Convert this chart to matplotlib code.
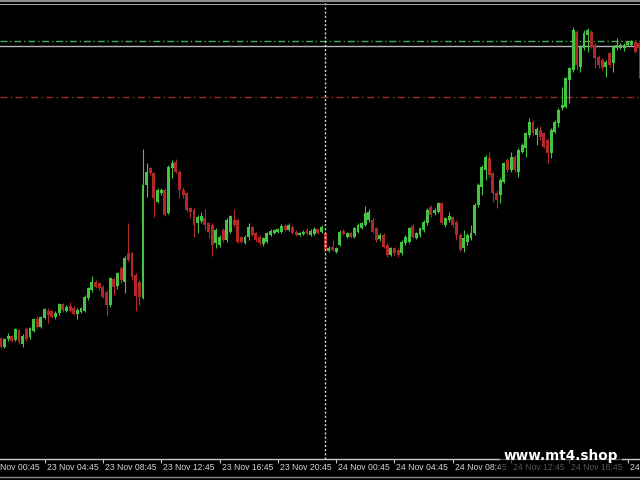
import matplotlib
matplotlib.use('Agg')
import matplotlib.pyplot as plt
from matplotlib.lines import Line2D
from matplotlib.patches import Rectangle
import matplotlib.transforms as mtransforms

# Kerzendaten (M15), Preise in Punkten ------------------------------------------
opens = [142, 133, 141, 144, 140, 150, 136, 151, 143, 149, 161, 153, 162, 169, 169, 163, 167, 176, 169, 174,
         172, 166, 168, 169, 182, 190, 198, 197, 193, 188, 175, 201, 194, 212, 198, 227, 227, 205, 198, 182,
         295, 312, 307, 278, 287, 290, 267, 312, 318, 308, 290, 287, 272, 270, 257, 259, 262, 257, 255, 237,
         235, 250, 240, 248, 260, 260, 243, 237, 243, 253, 247, 243, 236, 238, 245, 247, 248, 248, 254, 250,
         253, 248, 245, 246, 250, 245, 246, 251, 248, 247, 229, 233, 228, 235, 249, 243, 247, 243, 248, 252,
         255, 260, 260, 252, 241, 245, 235, 225, 232, 230, 227, 237, 238, 254, 242, 245, 250, 257, 273, 267,
         268, 277, 255, 260, 263, 258, 245, 232, 238, 242, 247, 275, 293, 310, 322, 307, 287, 285, 298, 320,
         310, 323, 308, 328, 332, 345, 358, 345, 350, 347, 340, 327, 348, 357, 372, 373, 400, 410, 448, 413,
         432, 445, 448, 435, 423, 420, 413, 427, 417, 432, 432, 432, 435, 435, 438, 437]
highs = [143, 142, 147, 145, 152, 151, 146, 153, 153, 162, 164, 164, 172, 172, 170, 169, 177, 177, 175, 178,
         174, 172, 173, 185, 193, 204, 200, 198, 195, 190, 203, 203, 208, 214, 224, 257, 228, 207, 200, 331,
         317, 313, 308, 292, 292, 292, 315, 320, 321, 310, 293, 288, 273, 272, 265, 268, 271, 258, 257, 252,
         245, 252, 262, 265, 271, 262, 244, 245, 257, 254, 248, 245, 243, 248, 251, 251, 252, 256, 256, 257,
         255, 250, 248, 250, 252, 251, 253, 252, 255, 248, 234, 240, 233, 250, 251, 248, 248, 253, 257, 258,
         274, 271, 262, 253, 247, 247, 237, 233, 233, 232, 240, 245, 253, 256, 248, 253, 260, 272, 275, 272,
         278, 278, 263, 268, 264, 260, 247, 250, 247, 255, 277, 297, 315, 325, 328, 308, 290, 302, 318, 322,
         328, 325, 332, 337, 348, 362, 360, 353, 354, 348, 342, 352, 360, 372, 393, 403, 413, 453, 450, 435,
         450, 452, 450, 437, 425, 422, 420, 428, 435, 442, 437, 437, 439, 440, 440, 437]
lows = [132, 132, 139, 138, 139, 136, 133, 139, 141, 148, 152, 152, 161, 157, 162, 161, 165, 168, 168, 168,
        165, 161, 167, 168, 180, 188, 192, 190, 182, 164, 173, 185, 191, 197, 187, 218, 200, 169, 175, 181,
        283, 305, 263, 277, 285, 264, 266, 302, 307, 282, 282, 268, 262, 243, 247, 257, 250, 242, 224, 232,
        233, 238, 238, 247, 253, 237, 237, 236, 240, 244, 238, 235, 234, 237, 244, 246, 247, 247, 249, 249,
        246, 244, 244, 245, 245, 244, 245, 246, 247, 228, 228, 229, 227, 234, 245, 242, 242, 242, 247, 251,
        254, 258, 247, 238, 239, 232, 223, 224, 225, 223, 225, 235, 237, 242, 241, 243, 248, 255, 263, 265,
        267, 256, 253, 258, 253, 240, 229, 228, 235, 240, 245, 273, 285, 300, 303, 278, 272, 277, 297, 308,
        308, 308, 303, 327, 323, 343, 345, 335, 340, 332, 317, 322, 347, 353, 370, 372, 377, 408, 410, 408,
        430, 428, 432, 412, 412, 410, 403, 413, 408, 430, 431, 429, 434, 434, 427, 402]
closes = [133, 141, 144, 139, 151, 138, 144, 141, 152, 161, 153, 163, 171, 165, 163, 167, 176, 170, 173, 169,
          166, 170, 172, 183, 192, 198, 193, 192, 183, 175, 202, 193, 207, 200, 222, 220, 203, 184, 183, 295,
          308, 307, 282, 290, 290, 265, 313, 317, 308, 290, 285, 270, 268, 255, 263, 264, 255, 248, 235, 250,
          243, 240, 260, 264, 255, 238, 238, 243, 253, 245, 240, 237, 242, 247, 249, 250, 251, 254, 250, 255,
          247, 245, 247, 248, 246, 249, 251, 247, 253, 230, 232, 230, 232, 248, 246, 247, 243, 252, 255, 257,
          267, 268, 248, 240, 245, 233, 225, 232, 227, 225, 238, 243, 252, 243, 247, 252, 258, 270, 265, 270,
          277, 257, 262, 264, 255, 245, 230, 242, 245, 247, 275, 295, 313, 323, 305, 287, 280, 300, 317, 310,
          323, 310, 330, 335, 347, 358, 347, 351, 343, 333, 327, 350, 358, 370, 375, 402, 412, 450, 415, 433,
          447, 450, 433, 422, 415, 412, 418, 415, 433, 435, 435, 435, 438, 439, 428, 432]

# Zeitachse: Kerze 0 = 23 Nov 01:45
tick_pos = [-4, 12, 28, 44, 60, 76, 92, 108, 124, 140, 156, 172]
tick_labels = ['23 Nov 00:45', '23 Nov 04:45', '23 Nov 08:45', '23 Nov 12:45', '23 Nov 16:45',
               '23 Nov 20:45', '24 Nov 00:45', '24 Nov 04:45', '24 Nov 08:45', '24 Nov 12:45',
               '24 Nov 16:45', '24 Nov 20:45']
day_sep = 89  # 24 Nov 00:00

# Horizontale Level
level_green = 439
level_gray = 434
level_red = 383

bull = '#43c443'
bear = '#b3262a'

fig = plt.figure(figsize=(6.4, 4.8), dpi=100, facecolor='black')
ax = fig.add_axes([0, 21 / 480, 1, 459 / 480], facecolor='black')

x = list(range(len(opens)))
colors = [bull if c >= o else bear for o, c in zip(opens, closes)]
bottoms = [min(o, c) for o, c in zip(opens, closes)]
heights = [max(abs(c - o), 0.8) for o, c in zip(opens, closes)]

ax.vlines(x, lows, highs, colors=colors, linewidth=0.8, zorder=3)  # Dochte
ax.bar(x, heights, bottom=bottoms, width=0.8, color=colors, linewidth=0, zorder=4)  # Körper

ax.axhline(level_green, color='#3fae5a', lw=1, linestyle=(0, (5, 2, 1, 2)), zorder=2)
ax.axhline(level_gray, color='#b4b4b4', lw=1, zorder=2)
ax.axhline(level_red, color='#9e2a2a', lw=1, linestyle=(0, (5, 2.5, 1, 2.5)), zorder=2)
ax.axvline(day_sep - 0.15, color='#d8d8d8', lw=1, linestyle=(0, (1.5, 1.5)), zorder=5)

for side in ['top', 'left', 'right']:
    ax.spines[side].set_visible(False)
ax.spines['bottom'].set_color('#c8c8c8')
ax.spines['bottom'].set_linewidth(1)
ax.set_yticks([])
ax.set_xticks(tick_pos)
ax.set_xticklabels([])
ax.tick_params(axis='x', colors='#c8c8c8', length=3, width=0.8)
# Limits erst nach den Ticks setzen (set_xticks erweitert sonst die Achse)
ax.set_xlim(-0.22, 175.36)
ax.set_ylim(21, 480)

# Zeitbeschriftung links ausgerichtet neben dem Tick
lab_trans = mtransforms.blended_transform_factory(ax.transData, ax.transAxes) + \
    mtransforms.ScaledTranslation(2 / 100, -4 / 100, fig.dpi_scale_trans)
for pos, lab in zip(tick_pos, tick_labels):
    ax.text(pos, 0, lab, transform=lab_trans, ha='left', va='top', color='#d4d4d4',
            fontsize=6.2, fontfamily='Liberation Sans', clip_on=False)

# Rahmenlinien oben/unten
fig.add_artist(Line2D([0, 1], [1 - 1 / 480, 1 - 1 / 480], transform=fig.transFigure, color='#8c8c8c', lw=1.5))
fig.add_artist(Line2D([0, 1], [1 - 4 / 480, 1 - 4 / 480], transform=fig.transFigure, color='#a0a0a0', lw=0.8))
fig.add_artist(Line2D([0, 1], [3 / 480, 3 / 480], transform=fig.transFigure, color='#8c8c8c', lw=1))

# Wasserzeichen
fig.add_artist(Rectangle((500 / 640, 4 / 480), 122 / 640, 30 / 480, transform=fig.transFigure,
                         facecolor='black', alpha=0.6, linewidth=0, zorder=5))
fig.text(561 / 640, 20 / 480, 'www.mt4.shop', color='white', fontsize=9.8, fontweight='bold',
         fontfamily='DejaVu Sans', ha='center', va='baseline', zorder=6)

fig.savefig('out.png', dpi=100, facecolor='black')
